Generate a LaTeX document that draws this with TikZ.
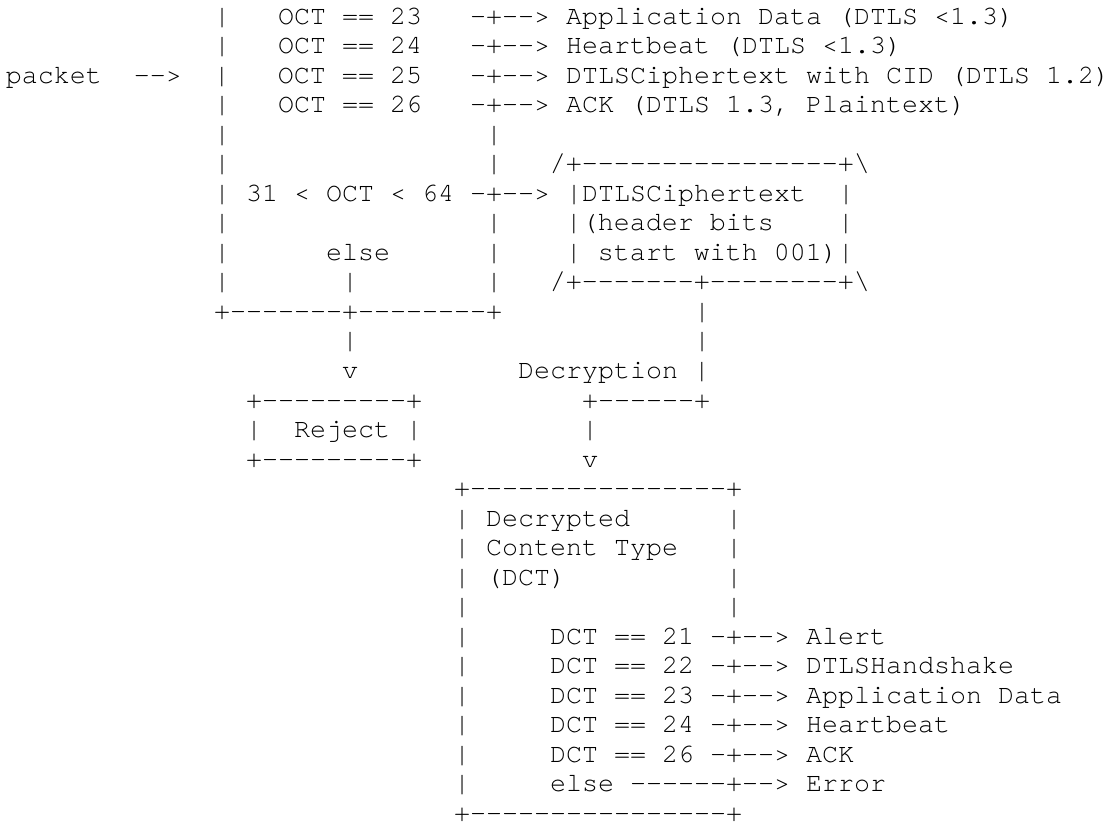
\documentclass[tikz,border=0pt]{standalone}
\usepackage{fontspec}
\setmonofont{texgyrecursor-regular.otf}
\newcommand\asciirow[3]{\node[asc] (row#1) at ({4.5pt+12pt*#2},{-18.375pt-22.125pt*#1}) {#3};}
\begin{document}
\begin{tikzpicture}[x=1pt,y=1pt,
  asc/.style={anchor=base west,inner sep=0pt,outer sep=0pt,
    font=\ttfamily\fontsize{20pt}{22.125pt}\selectfont,text=black}]
\fill[white] (0,0) rectangle (832.5,-617.25);
\useasboundingbox (0,0) rectangle (832.5,-617.25);
\asciirow{0}{13}{|~~~OCT~==~23~~~-+-->~Application~Data~(DTLS~<1.3)}
\asciirow{1}{13}{|~~~OCT~==~24~~~-+-->~Heartbeat~(DTLS~<1.3)}
\asciirow{2}{0}{packet~~-->~~|~~~OCT~==~25~~~-+-->~DTLSCiphertext~with~CID~(DTLS~1.2)}
\asciirow{3}{13}{|~~~OCT~==~26~~~-+-->~ACK~(DTLS~1.3,~Plaintext)}
\asciirow{4}{13}{|~~~~~~~~~~~~~~~~|}
\asciirow{5}{13}{|~~~~~~~~~~~~~~~~|~~~/+----------------+\textbackslash}
\asciirow{6}{13}{|~31~<~OCT~<~64~-+-->~|DTLSCiphertext~~|}
\asciirow{7}{13}{|~~~~~~~~~~~~~~~~|~~~~|(header~bits~~~~|}
\asciirow{8}{13}{|~~~~~~else~~~~~~|~~~~|~start~with~001)|}
\asciirow{9}{13}{|~~~~~~~|~~~~~~~~|~~~/+-------+--------+\textbackslash}
\asciirow{10}{13}{+-------+--------+~~~~~~~~~~~~|}
\asciirow{11}{21}{|~~~~~~~~~~~~~~~~~~~~~|}
\asciirow{12}{21}{v~~~~~~~~~~Decryption~|}
\asciirow{13}{15}{+---------+~~~~~~~~~~+------+}
\asciirow{14}{15}{|~~Reject~|~~~~~~~~~~|}
\asciirow{15}{15}{+---------+~~~~~~~~~~v}
\asciirow{16}{28}{+----------------+}
\asciirow{17}{28}{|~Decrypted~~~~~~|}
\asciirow{18}{28}{|~Content~Type~~~|}
\asciirow{19}{28}{|~(DCT)~~~~~~~~~~|}
\asciirow{20}{28}{|~~~~~~~~~~~~~~~~|}
\asciirow{21}{28}{|~~~~~DCT~==~21~-+-->~Alert}
\asciirow{22}{28}{|~~~~~DCT~==~22~-+-->~DTLSHandshake}
\asciirow{23}{28}{|~~~~~DCT~==~23~-+-->~Application~Data}
\asciirow{24}{28}{|~~~~~DCT~==~24~-+-->~Heartbeat}
\asciirow{25}{28}{|~~~~~DCT~==~26~-+-->~ACK}
\asciirow{26}{28}{|~~~~~else~------+-->~Error}
\asciirow{27}{28}{+----------------+}
\end{tikzpicture}
\end{document}
